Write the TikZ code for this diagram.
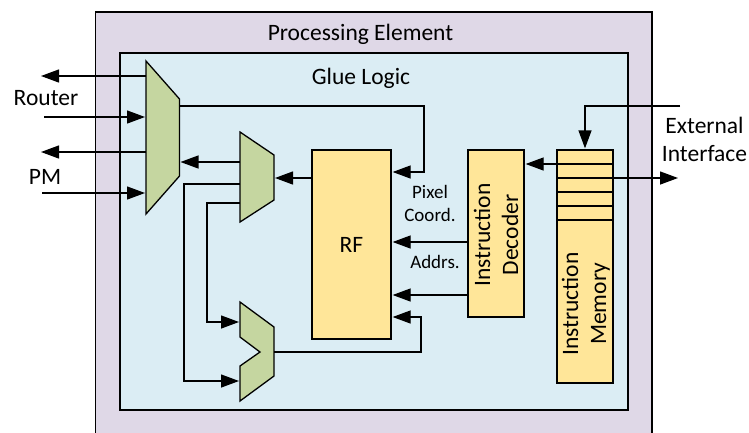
\documentclass[tikz,border=0pt]{standalone}
\usepackage{fontspec}
\setmainfont{Carlito}
\usetikzlibrary{arrows.meta}
\definecolor{peColor}{HTML}{DFD8E7}
\definecolor{glueColor}{HTML}{DBEDF4}
\definecolor{blockColor}{HTML}{FFE699}
\definecolor{muxColor}{HTML}{C5D6A0}
\tikzset{
  block/.style={draw=black,fill=blockColor,line width=1.3pt,inner sep=0pt,font=\fontsize{23.5}{28}\selectfont,align=center},
  mux/.style={draw=black,fill=muxColor,line width=1.3pt,line join=miter},
  wire/.style={line width=1.3pt,-{Triangle[length=18pt,width=13pt]},shorten >=1pt},
  plainwire/.style={line width=1.6pt},
  bigtext/.style={font=\fontsize{23.5}{28}\selectfont,inner sep=0pt,align=center},
  smalltext/.style={font=\fontsize{19}{23}\selectfont,inner sep=0pt,align=center}
}
\begin{document}
\begin{tikzpicture}[x=1pt,y=-1pt]
\clip (0,0) rectangle (749,432);
\draw[fill=peColor,line width=1.3pt] (95.5,12) rectangle (652,445);
\draw[fill=glueColor,line width=1.3pt] (120,53) rectangle (628,410);
\node[bigtext] (peLabel) at (360.5,34) {Processing Element};
\node[bigtext] (glueLabel) at (361,78.5) {Glue Logic};
\node[bigtext] (routerLabel) at (46,98.5) {Router};
\node[bigtext] (pmLabel) at (45,177) {PM};
\node[bigtext] (extLabel) at (704.5,139) {External\\Interface};
\node[smalltext] (pixelLabel) at (430,203) {Pixel\\Coord.};
\node[smalltext] (addrLabel) at (435,262) {Addrs.};

\node[block,minimum width=79pt,minimum height=189pt] (rf) at (351.5,244.5) {RF};
\node[block,minimum width=56pt,minimum height=167pt] (dec) at (496,233.5) {};
\node[block,draw=none,fill=none,rotate=90] (decLabel) at (496,235) {Instruction\\Decoder};
\node[block,minimum width=56pt,minimum height=233pt] (mem) at (585,266.5) {};
\node[block,draw=none,fill=none,rotate=90] (memLabel) at (586,304) {Instruction\\Memory};
\foreach \y in {164,178,192,206,220}
  \draw[plainwire] (mem.west |- 0,\y) -- (mem.east |- 0,\y);

\draw[mux] (146,61) coordinate (muxA) -- (179.5,99) -- (179.5,176) coordinate (muxAout) -- (146,214) -- cycle;
\draw[mux] (240,132) coordinate (muxB) -- (274,155) -- (274,200) coordinate (muxBout) -- (240,222) -- cycle;
\draw[mux] (240,302) coordinate (muxC) -- (274,327) -- (274,376) coordinate (muxCout) -- (240,401) -- (240,366) -- (260,352) -- (240,337) -- cycle;

\draw[wire] (muxA |- 0,76) -- (40,76) coordinate (routerOut);
\draw[wire] (44,117) coordinate (routerIn) -- (muxA |- 0,117);
\draw[wire] (muxA |- 0,152) -- (40,152) coordinate (pmOut);
\draw[wire] (42,193) coordinate (pmIn) -- (muxA |- 0,193);
\draw[wire] (muxAout |- 0,106) -| (424,172) -- (rf.east |- 0,172);
\draw[wire] (muxB |- 0,162) -- (muxAout |- 0,162);
\draw[wire] (rf.west |- 0,178) -- (muxBout |- 0,178);
\draw[wire] (muxB |- 0,184) -| (184,381) -- (muxC |- 0,381);
\draw[wire] (muxB |- 0,203) -| (207,322) -- (muxC |- 0,322);
\draw[wire] (muxCout |- 0,352) -| (421,317) -- (rf.east |- 0,317);
\draw[wire] (dec.west |- 0,242) -- (rf.east |- 0,242);
\draw[wire] (dec.west |- 0,295) -- (rf.east |- 0,295);
\draw[wire] (mem.west |- 0,164) -- (dec.east |- 0,164);
\draw[wire] (598,178) coordinate (memOut) -- (679,178);
\draw[wire] (680,106) coordinate (extIn) -| (mem.north);
\end{tikzpicture}
\end{document}
